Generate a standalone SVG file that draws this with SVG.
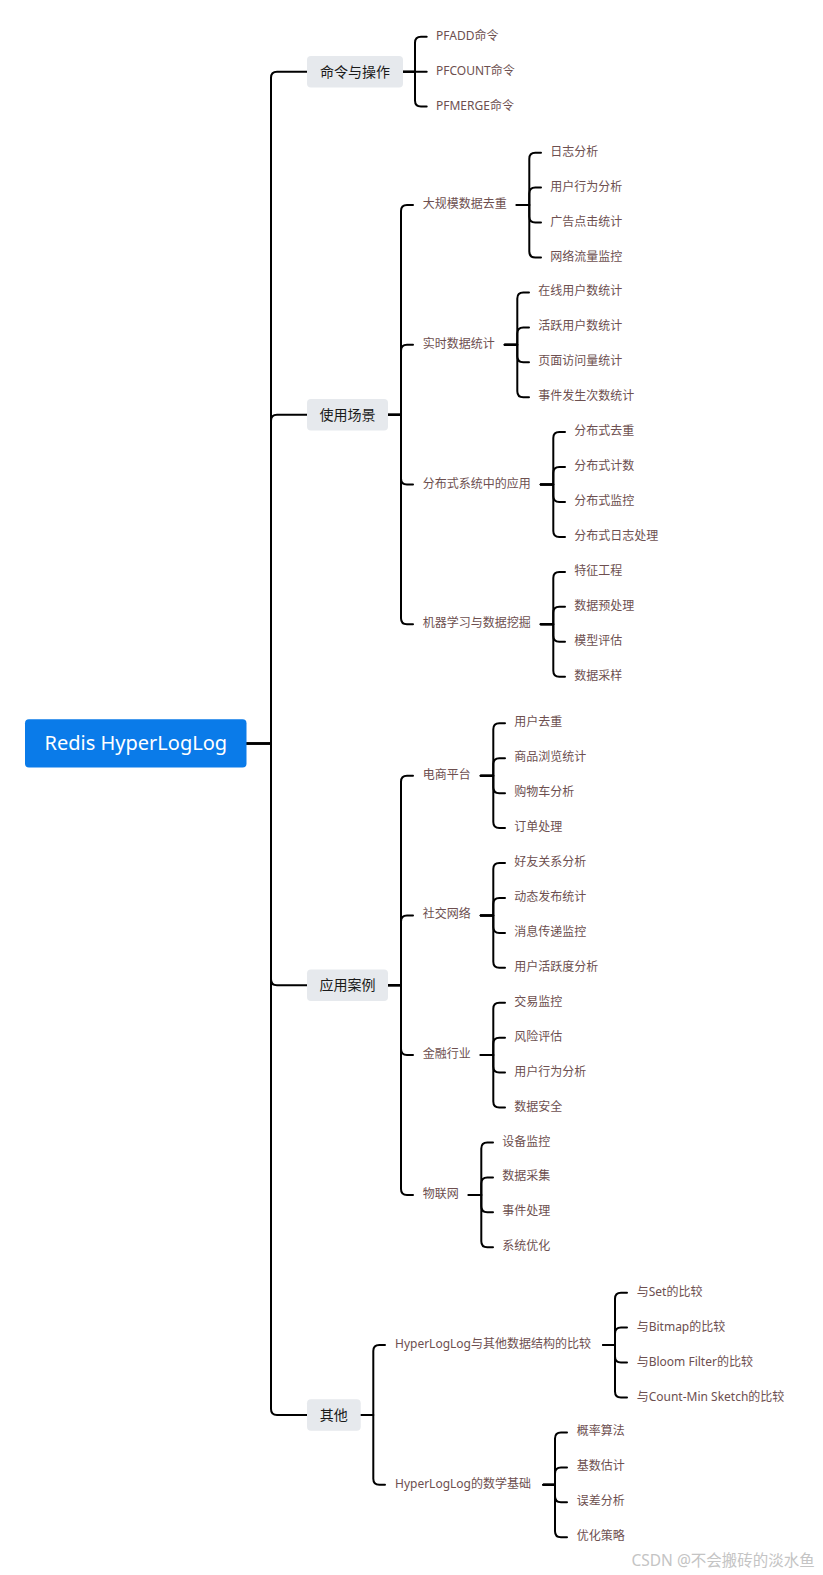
<svg xmlns="http://www.w3.org/2000/svg" width="823" height="1575" viewBox="0 0 823 1575">
<style>
  .bg{fill:#ffffff}
  .c{fill:none;stroke:#000;stroke-width:2;stroke-linecap:round;stroke-linejoin:round}
  .root{fill:#0a7be9}
  .rt{font-family:"Noto Sans","Noto Sans CJK SC",sans-serif;font-size:20px;fill:#fff;text-anchor:middle;dominant-baseline:central}
  .l1{fill:#e6e9ed}
  .t1{font-family:"Noto Sans","Noto Sans CJK SC",sans-serif;font-size:14px;fill:#1a1a1a;text-anchor:middle;dominant-baseline:central}
  .t2{font-family:"Noto Sans","Noto Sans CJK SC",sans-serif;font-size:12px;fill:#6d4f4f;dominant-baseline:central}
  .wm{font-family:"Noto Sans","Noto Sans CJK SC",sans-serif;font-size:15.5px;fill:#c4c4c4;dominant-baseline:central}
</style>
<rect class="bg" x="0" y="0" width="823" height="1575"/>

<g id="connectors">
  <!-- root to level 1 -->
  <path class="c" d="M246.5,743.4 H271 V77.7 Q271,71.7 277,71.7 H307"/>
  <path class="c" d="M246.5,743.4 H271 V420.7 Q271,414.7 277,414.7 H307"/>
  <path class="c" d="M246.5,743.4 H271 V979.3 Q271,985.3 277,985.3 H307"/>
  <path class="c" d="M246.5,743.4 H271 V1409 Q271,1415 277,1415 H307"/>
  <!-- 命令与操作 -->
  <path class="c" d="M403,71.7 H415 V42.8 Q415,36.8 421,36.8 H426.7"/>
  <path class="c" d="M403,71.7 H426.7"/>
  <path class="c" d="M403,71.7 H415 V100.6 Q415,106.6 421,106.6 H426.7"/>
  <!-- 使用场景 -->
  <path class="c" d="M388,414.7 H401 V211.1 Q401,205.1 407,205.1 H413"/>
  <path class="c" d="M388,414.7 H401 V350.8 Q401,344.8 407,344.8 H413"/>
  <path class="c" d="M388,414.7 H401 V478.5 Q401,484.5 407,484.5 H413"/>
  <path class="c" d="M388,414.7 H401 V618.3 Q401,624.3 407,624.3 H413"/>
  <!-- 大规模数据去重 -->
  <path class="c" d="M516.7,205.1 H529.3 V158.7 Q529.3,152.7 535.3,152.7 H541"/>
  <path class="c" d="M516.7,205.1 H529.3 V193.6 Q529.3,187.6 535.3,187.6 H541"/>
  <path class="c" d="M516.7,205.1 H529.3 V216.6 Q529.3,222.6 535.3,222.6 H541"/>
  <path class="c" d="M516.7,205.1 H529.3 V251.5 Q529.3,257.5 535.3,257.5 H541"/>
  <!-- 实时数据统计 -->
  <path class="c" d="M504.7,344.8 H517.3 V298.4 Q517.3,292.4 523.3,292.4 H529"/>
  <path class="c" d="M504.7,344.8 H517.3 V333.4 Q517.3,327.4 523.3,327.4 H529"/>
  <path class="c" d="M504.7,344.8 H517.3 V356.3 Q517.3,362.3 523.3,362.3 H529"/>
  <path class="c" d="M504.7,344.8 H517.3 V391.2 Q517.3,397.2 523.3,397.2 H529"/>
  <!-- 分布式系统中的应用 -->
  <path class="c" d="M540.7,484.5 H553.3 V438.1 Q553.3,432.1 559.3,432.1 H565"/>
  <path class="c" d="M540.7,484.5 H553.3 V473.1 Q553.3,467.1 559.3,467.1 H565"/>
  <path class="c" d="M540.7,484.5 H553.3 V496 Q553.3,502 559.3,502 H565"/>
  <path class="c" d="M540.7,484.5 H553.3 V530.9 Q553.3,536.9 559.3,536.9 H565"/>
  <!-- 机器学习与数据挖掘 -->
  <path class="c" d="M540.7,624.3 H553.3 V577.9 Q553.3,571.9 559.3,571.9 H565"/>
  <path class="c" d="M540.7,624.3 H553.3 V612.8 Q553.3,606.8 559.3,606.8 H565"/>
  <path class="c" d="M540.7,624.3 H553.3 V635.7 Q553.3,641.7 559.3,641.7 H565"/>
  <path class="c" d="M540.7,624.3 H553.3 V670.7 Q553.3,676.7 559.3,676.7 H565"/>
  <!-- 应用案例 -->
  <path class="c" d="M388,985.3 H401 V781.7 Q401,775.7 407,775.7 H413"/>
  <path class="c" d="M388,985.3 H401 V921.4 Q401,915.4 407,915.4 H413"/>
  <path class="c" d="M388,985.3 H401 V1049.1 Q401,1055.1 407,1055.1 H413"/>
  <path class="c" d="M388,985.3 H401 V1188.9 Q401,1194.9 407,1194.9 H413"/>
  <!-- 电商平台 -->
  <path class="c" d="M480.7,775.7 H493.3 V729.3 Q493.3,723.3 499.3,723.3 H505"/>
  <path class="c" d="M480.7,775.7 H493.3 V764.2 Q493.3,758.2 499.3,758.2 H505"/>
  <path class="c" d="M480.7,775.7 H493.3 V787.2 Q493.3,793.2 499.3,793.2 H505"/>
  <path class="c" d="M480.7,775.7 H493.3 V822.1 Q493.3,828.1 499.3,828.1 H505"/>
  <!-- 社交网络 -->
  <path class="c" d="M480.7,915.4 H493.3 V869 Q493.3,863 499.3,863 H505"/>
  <path class="c" d="M480.7,915.4 H493.3 V904 Q493.3,898 499.3,898 H505"/>
  <path class="c" d="M480.7,915.4 H493.3 V926.9 Q493.3,932.9 499.3,932.9 H505"/>
  <path class="c" d="M480.7,915.4 H493.3 V961.8 Q493.3,967.8 499.3,967.8 H505"/>
  <!-- 金融行业 -->
  <path class="c" d="M480.7,1055.1 H493.3 V1008.7 Q493.3,1002.7 499.3,1002.7 H505"/>
  <path class="c" d="M480.7,1055.1 H493.3 V1043.7 Q493.3,1037.7 499.3,1037.7 H505"/>
  <path class="c" d="M480.7,1055.1 H493.3 V1066.6 Q493.3,1072.6 499.3,1072.6 H505"/>
  <path class="c" d="M480.7,1055.1 H493.3 V1101.5 Q493.3,1107.5 499.3,1107.5 H505"/>
  <!-- 物联网 -->
  <path class="c" d="M468.7,1194.9 H481.3 V1148.5 Q481.3,1142.5 487.3,1142.5 H493"/>
  <path class="c" d="M468.7,1194.9 H481.3 V1183.4 Q481.3,1177.4 487.3,1177.4 H493"/>
  <path class="c" d="M468.7,1194.9 H481.3 V1206.3 Q481.3,1212.3 487.3,1212.3 H493"/>
  <path class="c" d="M468.7,1194.9 H481.3 V1241.3 Q481.3,1247.3 487.3,1247.3 H493"/>
  <!-- 其他 -->
  <path class="c" d="M360.7,1415 H373.3 V1351.1 Q373.3,1345.1 379.3,1345.1 H385"/>
  <path class="c" d="M360.7,1415 H373.3 V1478.8 Q373.3,1484.8 379.3,1484.8 H385"/>
  <!-- HyperLogLog与其他数据结构的比较 -->
  <path class="c" d="M603.3,1345.1 H615 V1298.7 Q615,1292.7 621,1292.7 H627"/>
  <path class="c" d="M603.3,1345.1 H615 V1333.6 Q615,1327.6 621,1327.6 H627"/>
  <path class="c" d="M603.3,1345.1 H615 V1356.6 Q615,1362.6 621,1362.6 H627"/>
  <path class="c" d="M603.3,1345.1 H615 V1391.5 Q615,1397.5 621,1397.5 H627"/>
  <!-- HyperLogLog的数学基础 -->
  <path class="c" d="M543.3,1484.8 H555 V1438.4 Q555,1432.4 561,1432.4 H567"/>
  <path class="c" d="M543.3,1484.8 H555 V1473.4 Q555,1467.4 561,1467.4 H567"/>
  <path class="c" d="M543.3,1484.8 H555 V1496.3 Q555,1502.3 561,1502.3 H567"/>
  <path class="c" d="M543.3,1484.8 H555 V1531.2 Q555,1537.2 561,1537.2 H567"/>
</g>

<g id="root">
  <rect class="root" x="25" y="719.2" width="221.5" height="48.4" rx="4"/>
  <text class="rt" x="135.8" y="742.4">Redis HyperLogLog</text>
</g>

<g id="n-cmd">
  <rect class="l1" x="307" y="56" width="96" height="31.5" rx="4"/>
  <text class="t1" x="355" y="71">命令与操作</text>
</g>
<g id="n-cmd-pfadd"><text class="t2" x="436" y="35.3">PFADD命令</text></g>
<g id="n-cmd-pfcount"><text class="t2" x="436" y="70.2">PFCOUNT命令</text></g>
<g id="n-cmd-pfmerge"><text class="t2" x="436" y="105.1">PFMERGE命令</text></g>

<g id="n-use">
  <rect class="l1" x="307" y="399" width="81" height="31.5" rx="4"/>
  <text class="t1" x="347.5" y="414">使用场景</text>
</g>
<g id="n-use-dedup"><text class="t2" x="422.7" y="203.6">大规模数据去重</text></g>
<g id="n-use-dedup-1"><text class="t2" x="550.3" y="151.2">日志分析</text></g>
<g id="n-use-dedup-2"><text class="t2" x="550.3" y="186.1">用户行为分析</text></g>
<g id="n-use-dedup-3"><text class="t2" x="550.3" y="221.1">广告点击统计</text></g>
<g id="n-use-dedup-4"><text class="t2" x="550.3" y="256">网络流量监控</text></g>

<g id="n-use-rt"><text class="t2" x="422.7" y="343.3">实时数据统计</text></g>
<g id="n-use-rt-1"><text class="t2" x="538.3" y="290.9">在线用户数统计</text></g>
<g id="n-use-rt-2"><text class="t2" x="538.3" y="325.9">活跃用户数统计</text></g>
<g id="n-use-rt-3"><text class="t2" x="538.3" y="360.8">页面访问量统计</text></g>
<g id="n-use-rt-4"><text class="t2" x="538.3" y="395.7">事件发生次数统计</text></g>

<g id="n-use-dist"><text class="t2" x="422.7" y="483">分布式系统中的应用</text></g>
<g id="n-use-dist-1"><text class="t2" x="574.3" y="430.6">分布式去重</text></g>
<g id="n-use-dist-2"><text class="t2" x="574.3" y="465.6">分布式计数</text></g>
<g id="n-use-dist-3"><text class="t2" x="574.3" y="500.5">分布式监控</text></g>
<g id="n-use-dist-4"><text class="t2" x="574.3" y="535.4">分布式日志处理</text></g>

<g id="n-use-ml"><text class="t2" x="422.7" y="622.8">机器学习与数据挖掘</text></g>
<g id="n-use-ml-1"><text class="t2" x="574.3" y="570.4">特征工程</text></g>
<g id="n-use-ml-2"><text class="t2" x="574.3" y="605.3">数据预处理</text></g>
<g id="n-use-ml-3"><text class="t2" x="574.3" y="640.2">模型评估</text></g>
<g id="n-use-ml-4"><text class="t2" x="574.3" y="675.2">数据采样</text></g>

<g id="n-case">
  <rect class="l1" x="307" y="969.6" width="81" height="31.5" rx="4"/>
  <text class="t1" x="347.5" y="984.6">应用案例</text>
</g>
<g id="n-case-ec"><text class="t2" x="422.7" y="774.2">电商平台</text></g>
<g id="n-case-ec-1"><text class="t2" x="514.3" y="721.8">用户去重</text></g>
<g id="n-case-ec-2"><text class="t2" x="514.3" y="756.7">商品浏览统计</text></g>
<g id="n-case-ec-3"><text class="t2" x="514.3" y="791.7">购物车分析</text></g>
<g id="n-case-ec-4"><text class="t2" x="514.3" y="826.6">订单处理</text></g>

<g id="n-case-sn"><text class="t2" x="422.7" y="913.9">社交网络</text></g>
<g id="n-case-sn-1"><text class="t2" x="514.3" y="861.5">好友关系分析</text></g>
<g id="n-case-sn-2"><text class="t2" x="514.3" y="896.5">动态发布统计</text></g>
<g id="n-case-sn-3"><text class="t2" x="514.3" y="931.4">消息传递监控</text></g>
<g id="n-case-sn-4"><text class="t2" x="514.3" y="966.3">用户活跃度分析</text></g>

<g id="n-case-fin"><text class="t2" x="422.7" y="1053.6">金融行业</text></g>
<g id="n-case-fin-1"><text class="t2" x="514.3" y="1001.2">交易监控</text></g>
<g id="n-case-fin-2"><text class="t2" x="514.3" y="1036.2">风险评估</text></g>
<g id="n-case-fin-3"><text class="t2" x="514.3" y="1071.1">用户行为分析</text></g>
<g id="n-case-fin-4"><text class="t2" x="514.3" y="1106">数据安全</text></g>

<g id="n-case-iot"><text class="t2" x="422.7" y="1193.4">物联网</text></g>
<g id="n-case-iot-1"><text class="t2" x="502.3" y="1141">设备监控</text></g>
<g id="n-case-iot-2"><text class="t2" x="502.3" y="1175.9">数据采集</text></g>
<g id="n-case-iot-3"><text class="t2" x="502.3" y="1210.8">事件处理</text></g>
<g id="n-case-iot-4"><text class="t2" x="502.3" y="1245.8">系统优化</text></g>

<g id="n-other">
  <rect class="l1" x="307" y="1399.3" width="53.7" height="31.5" rx="4"/>
  <text class="t1" x="333.8" y="1414.3">其他</text>
</g>
<g id="n-other-cmp"><text class="t2" x="395" y="1343.6">HyperLogLog与其他数据结构的比较</text></g>
<g id="n-other-cmp-1"><text class="t2" x="636.7" y="1291.2">与Set的比较</text></g>
<g id="n-other-cmp-2"><text class="t2" x="636.7" y="1326.1">与Bitmap的比较</text></g>
<g id="n-other-cmp-3"><text class="t2" x="636.7" y="1361.1">与Bloom Filter的比较</text></g>
<g id="n-other-cmp-4"><text class="t2" x="636.7" y="1396">与Count-Min Sketch的比较</text></g>

<g id="n-other-math"><text class="t2" x="395" y="1483.3">HyperLogLog的数学基础</text></g>
<g id="n-other-math-1"><text class="t2" x="576.7" y="1430.9">概率算法</text></g>
<g id="n-other-math-2"><text class="t2" x="576.7" y="1465.9">基数估计</text></g>
<g id="n-other-math-3"><text class="t2" x="576.7" y="1500.8">误差分析</text></g>
<g id="n-other-math-4"><text class="t2" x="576.7" y="1535.7">优化策略</text></g>

<text class="wm" x="631.5" y="1559.5">CSDN @不会搬砖的淡水鱼</text>
</svg>
